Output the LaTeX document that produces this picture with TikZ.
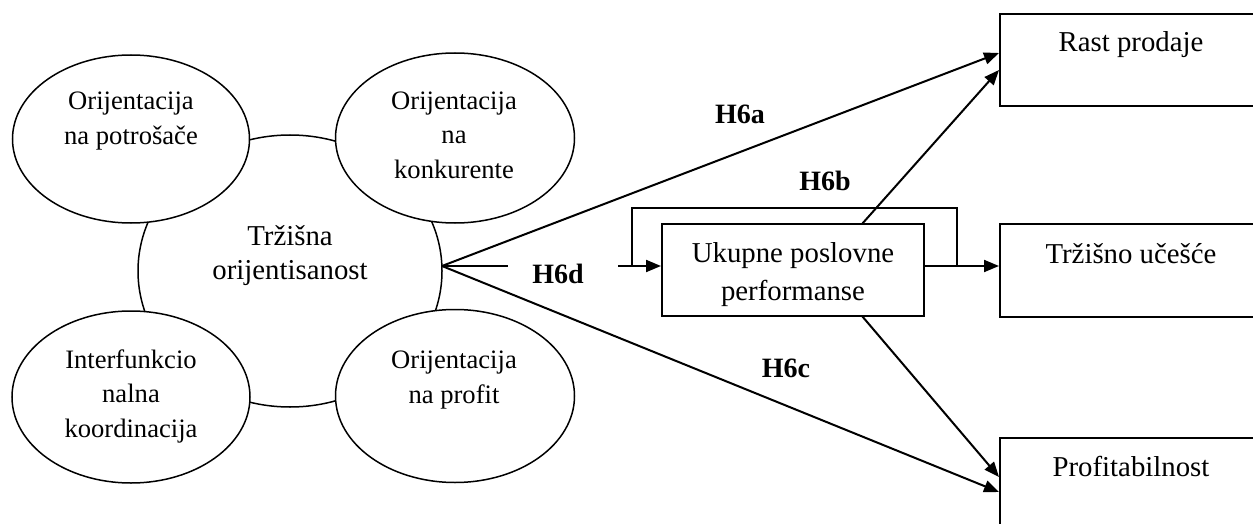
\documentclass[tikz,border=0pt]{standalone}
\usepackage{fontspec}
\setmainfont{Liberation Serif}
\usetikzlibrary{arrows.meta,shapes.geometric,calc}
\begin{document}
\begin{tikzpicture}[x=0.5pt,y=-0.5pt,
  oval/.style={draw,ellipse,line width=0.75pt,fill=white,inner sep=0pt},
  ovaltxt/.style={anchor=base,inner sep=0pt,font=\fontsize{13.3}{16}\selectfont},
  boxtxt/.style={anchor=base,inner sep=0pt,font=\fontsize{14.4}{17}\selectfont},
  hyp/.style={anchor=base,inner sep=0pt,font=\fontsize{14}{17}\selectfont\bfseries},
  panel/.style={draw,line width=1pt,inner sep=0pt},
  link/.style={line width=1pt},
  arr/.style={line width=1pt,-{Triangle[length=7.5pt,width=6pt]}}]
\useasboundingbox (0,0) rectangle (1253,524);
\clip (0,0) rectangle (1253,524);

% central construct and its four dimensions (sizes in pt = half the px grid)
\node[oval,minimum width=152pt,minimum height=136pt] (core) at (290,271) {};
\node[oval,minimum width=118.5pt,minimum height=84pt] (cust) at (131,139) {};
\node[oval,minimum width=119.5pt,minimum height=85pt] (comp) at (455,138) {};
\node[oval,minimum width=119pt,minimum height=86pt] (intf) at (131,397) {};
\node[oval,minimum width=119.5pt,minimum height=86.5pt] (prof) at (455,396) {};

\node[ovaltxt] (custA) at (131,110) {Orijentacija};
\node[ovaltxt] (custB) at (131,145) {na potrošače};
\node[ovaltxt] (compA) at (454,110) {Orijentacija};
\node[ovaltxt] (compB) at (454,144) {na};
\node[ovaltxt] (compC) at (454,178) {konkurente};
\node[ovaltxt] (intfA) at (131,368) {Interfunkcio};
\node[ovaltxt] (intfB) at (131,402) {nalna};
\node[ovaltxt] (intfC) at (131,437) {koordinacija};
\node[ovaltxt] (profA) at (454,368) {Orijentacija};
\node[ovaltxt] (profB) at (454,403) {na profit};
\node[boxtxt] (coreA) at (290,245) {Tržišna};
\node[boxtxt] (coreB) at (290,279) {orijentisanost};

% outcome boxes
\node[panel,minimum width=131pt,minimum height=46pt] (perf) at (793,270) {};
\node[boxtxt] (perfA) at (793,262) {Ukupne poslovne};
\node[boxtxt] (perfB) at (793,300) {performanse};
\node[panel,minimum width=131pt,minimum height=46pt] (sales) at (1131,60) {};
\node[boxtxt] (salesA) at (1131,52) {Rast prodaje};
\node[panel,minimum width=131pt,minimum height=46.5pt] (share) at (1131,270) {};
\node[boxtxt] (shareA) at (1131,263) {Tržišno učešće};
\node[panel,minimum width=131pt,minimum height=46pt] (roi) at (1131,484) {};
\node[boxtxt] (roiA) at (1131,476) {Profitabilnost};

% connection points
\coordinate (hub) at (442,266);
\coordinate (dEnd) at (508,266);
\coordinate (dStart) at (618,266);
\coordinate (loopL) at (632,266);
\coordinate (loopR) at (957,266);
\coordinate (perfTop) at (862,224);
\coordinate (perfBot) at (862,316);

% paths
\draw[link] (hub) -- (dEnd);
\draw[arr] (dStart) -- (perf.west |- dStart);
\draw[link] (loopL) -- ++(0,-58) -| (loopR);
\draw[arr] (perf.east |- hub) -- (share.west |- hub);
\draw[arr] (hub) -- ($(sales.west)+(0,-7)$);
\draw[arr] (perfTop) -- ($(sales.west)+(0,10)$);
\draw[arr] (perfBot) -- ($(roi.west)+(0,-7)$);
\draw[arr] (hub) -- ($(roi.west)+(0,8)$);

% hypothesis labels
\node[hyp] (h6a) at (740,124) {H6a};
\node[hyp] (h6b) at (825,191) {H6b};
\node[hyp] (h6c) at (786,377) {H6c};
\node[hyp] (h6d) at (558,283) {H6d};
\end{tikzpicture}
\end{document}
